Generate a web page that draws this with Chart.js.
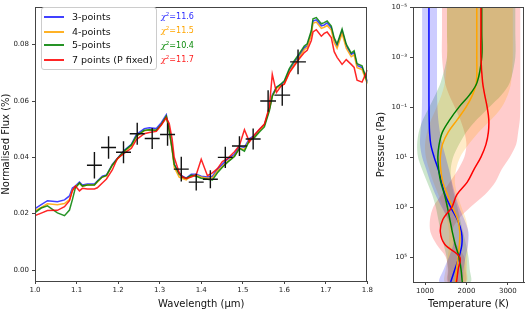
<!DOCTYPE html>
<html>
<head>
<meta charset="utf-8">
<script src="https://cdn.jsdelivr.net/npm/chart.js@4/dist/chart.umd.min.js"></script>
<style>
  body { margin: 0; background: #fff; width: 525px; height: 310px; position: relative; overflow: hidden; font-family: "DejaVu Sans", sans-serif; }
  #specWrap { position: absolute; left: 0; top: 0; width: 375px; height: 310px; }
  #tpWrap { position: absolute; left: 375px; top: 0; width: 150px; height: 310px; }
  .legend { position: absolute; left: 41px; top: 7px; width: 114px; height: 61px; border: 1px solid #ccc; border-radius: 3px; background: rgba(255,255,255,0.85); font-size: 9.5px; color: #111; }
  .row { position: absolute; left: 0; height: 12px; line-height: 12px; }
  .row span.swatch { position: absolute; left: 2px; top: 5px; width: 20px; height: 2px; }
  .row span.lab { position: absolute; left: 30px; top: 0; white-space: nowrap; }
  .chi { position: absolute; left: 161px; font-size: 8px; white-space: nowrap; line-height: 10px; }
  .chi i { font-family: "DejaVu Serif", serif; }
  .chi sup { font-size: 5.5px; vertical-align: 3px; }
</style>
</head>
<body>
<div id="specWrap"><canvas id="spec" width="375" height="310"></canvas></div>
<div id="tpWrap"><canvas id="tp" width="150" height="310"></canvas></div>

<div class="legend">
  <div class="row" style="top:3px"><span class="swatch" style="background:rgba(0,0,255,0.75)"></span><span class="lab">3-points</span></div>
  <div class="row" style="top:18px"><span class="swatch" style="background:rgba(255,165,0,0.85)"></span><span class="lab">4-points</span></div>
  <div class="row" style="top:31px"><span class="swatch" style="background:rgba(0,128,0,0.85)"></span><span class="lab">5-points</span></div>
  <div class="row" style="top:46px"><span class="swatch" style="background:rgba(255,0,0,0.85)"></span><span class="lab">7 points (P fixed)</span></div>
</div>
<div class="chi" style="top:9px;color:#2a2aff"><i>χ</i><sup>2</sup>=11.6</div>
<div class="chi" style="top:23px;color:#ffa500"><i>χ</i><sup>2</sup>=11.5</div>
<div class="chi" style="top:38px;color:#0a8a0a"><i>χ</i><sup>2</sup>=10.4</div>
<div class="chi" style="top:52px;color:#ff2020"><i>χ</i><sup>2</sup>=11.7</div>

<script>
// ---- spectrum (left panel) ----
const wl = [1.000, 1.015, 1.030, 1.054, 1.071, 1.083, 1.090, 1.097, 1.107, 1.114, 1.126, 1.143, 1.150, 1.162, 1.172, 1.186, 1.198, 1.215, 1.232, 1.244,
  1.263, 1.275, 1.292, 1.304, 1.316, 1.323, 1.330, 1.335, 1.347, 1.355, 1.364, 1.376, 1.388, 1.400, 1.415, 1.427, 1.439, 1.451, 1.463, 1.480,
  1.492, 1.504, 1.516, 1.528, 1.540, 1.552, 1.564, 1.571, 1.581, 1.593, 1.600, 1.612, 1.624, 1.636, 1.648, 1.655, 1.665, 1.669, 1.677, 1.689,
  1.696, 1.703, 1.713, 1.720, 1.727, 1.739, 1.749, 1.761, 1.768, 1.775, 1.787, 1.800];

const flux3pt = [0.0218, 0.0232, 0.0246, 0.0242, 0.0249, 0.0263, 0.0291, 0.0298, 0.0312, 0.0302, 0.0305, 0.0305, 0.0316, 0.0333, 0.0337, 0.0375, 0.0396, 0.0425, 0.0446, 0.0481,
  0.0502, 0.0505, 0.0502, 0.0523, 0.0551, 0.0498, 0.0432, 0.0375, 0.0344, 0.0333, 0.0326, 0.0340, 0.0340, 0.0333, 0.0330, 0.0333, 0.0358, 0.0375, 0.0393, 0.0411,
  0.0439, 0.0435, 0.0467, 0.0477, 0.0498, 0.0516, 0.0572, 0.0621, 0.0649, 0.0660, 0.0667, 0.0709, 0.0737, 0.0761, 0.0789, 0.0796, 0.0842, 0.0884, 0.0888, 0.0867,
  0.0870, 0.0877, 0.0860, 0.0818, 0.0796, 0.0849, 0.0796, 0.0765, 0.0772, 0.0726, 0.0719, 0.0670];

const flux4pt = [0.0210, 0.0222, 0.0235, 0.0232, 0.0236, 0.0250, 0.0284, 0.0295, 0.0308, 0.0298, 0.0302, 0.0302, 0.0312, 0.0330, 0.0334, 0.0372, 0.0393, 0.0420, 0.0440, 0.0474,
  0.0494, 0.0497, 0.0495, 0.0516, 0.0545, 0.0495, 0.0425, 0.0365, 0.0330, 0.0325, 0.0320, 0.0335, 0.0336, 0.0330, 0.0326, 0.0328, 0.0352, 0.0368, 0.0385, 0.0405,
  0.0432, 0.0428, 0.0462, 0.0472, 0.0494, 0.0514, 0.0570, 0.0618, 0.0645, 0.0655, 0.0662, 0.0703, 0.0730, 0.0755, 0.0782, 0.0790, 0.0835, 0.0876, 0.0880, 0.0858,
  0.0862, 0.0868, 0.0852, 0.0808, 0.0787, 0.0840, 0.0787, 0.0757, 0.0764, 0.0718, 0.0712, 0.0660];

const flux5pt = [0.0204, 0.0220, 0.0228, 0.0203, 0.0193, 0.0213, 0.0250, 0.0291, 0.0309, 0.0298, 0.0302, 0.0302, 0.0314, 0.0330, 0.0336, 0.0372, 0.0395, 0.0423, 0.0444, 0.0476,
  0.0496, 0.0498, 0.0496, 0.0517, 0.0546, 0.0495, 0.0430, 0.0375, 0.0340, 0.0330, 0.0325, 0.0336, 0.0333, 0.0326, 0.0322, 0.0320, 0.0345, 0.0365, 0.0382, 0.0403,
  0.0432, 0.0422, 0.0460, 0.0470, 0.0490, 0.0508, 0.0565, 0.0616, 0.0648, 0.0662, 0.0672, 0.0715, 0.0743, 0.0768, 0.0795, 0.0803, 0.0850, 0.0892, 0.0896, 0.0874,
  0.0878, 0.0884, 0.0866, 0.0824, 0.0802, 0.0855, 0.0802, 0.0770, 0.0778, 0.0732, 0.0725, 0.0665];

const flux7pt = [0.0193, 0.0202, 0.0211, 0.0212, 0.0225, 0.0246, 0.0281, 0.0298, 0.0281, 0.0290, 0.0288, 0.0288, 0.0292, 0.0309, 0.0323, 0.0355, 0.0395, 0.0415, 0.0432, 0.0463,
  0.0484, 0.0488, 0.0492, 0.0515, 0.0540, 0.0520, 0.0465, 0.0400, 0.0345, 0.0330, 0.0325, 0.0330, 0.0338, 0.0393, 0.0335, 0.0345, 0.0360, 0.0385, 0.0395, 0.0420,
  0.0442, 0.0498, 0.0455, 0.0480, 0.0500, 0.0518, 0.0580, 0.0695, 0.0630, 0.0655, 0.0660, 0.0700, 0.0725, 0.0750, 0.0772, 0.0780, 0.0815, 0.0845, 0.0853, 0.0830,
  0.0840, 0.0845, 0.0825, 0.0775, 0.0755, 0.0730, 0.0747, 0.0730, 0.0719, 0.0674, 0.0667, 0.0710];

// observed points with error bars
const obsWl   = [1.143, 1.177, 1.213, 1.246, 1.282, 1.319, 1.352, 1.388, 1.422, 1.458, 1.492, 1.525, 1.561, 1.595, 1.633];
const obsFlux = [0.0372, 0.0435, 0.0418, 0.0484, 0.0467, 0.0481, 0.0358, 0.0312, 0.0322, 0.0400, 0.0440, 0.0465, 0.0600, 0.0621, 0.0739];
const obsYerr = [0.0047, 0.0040, 0.0039, 0.0039, 0.0037, 0.0040, 0.0044, 0.0030, 0.0032, 0.0038, 0.0035, 0.0037, 0.0038, 0.0038, 0.0044];
const obsXerr = [0.018, 0.018, 0.018, 0.018, 0.018, 0.018, 0.018, 0.018, 0.018, 0.018, 0.018, 0.018, 0.019, 0.019, 0.019];

const wlTicks = [1.0, 1.1, 1.2, 1.3, 1.4, 1.5, 1.6, 1.7, 1.8];
const fluxTicks = [0.00, 0.02, 0.04, 0.06, 0.08];

// ---- T-P profiles (right panel) ----
const pressure = [1e-5, 1e-4, 1e-3, 1e-2, 3.16e-2, 1e-1, 3.16e-1, 1, 3.16, 10, 31.6, 100, 316, 1e3, 3.16e3, 1e4, 3.16e4, 1e5, 3.16e5, 1e6];
const temp3pt = [1095, 1095, 1095, 1095, 1095, 1096, 1100, 1110, 1140, 1220, 1320, 1400, 1480, 1620, 1780, 1880, 1890, 1820, 1720, 1620];
const temp4pt = [2250, 2250, 2250, 2240, 2150, 1990, 1780, 1560, 1420, 1370, 1380, 1430, 1540, 1660, 1790, 1840, 1830, 1800, 1760, 1740];
const temp5pt = [2370, 2370, 2370, 2260, 2080, 1820, 1600, 1420, 1340, 1310, 1330, 1380, 1470, 1540, 1600, 1660, 1730, 1820, 1870, 1900];
const temp7pt = [2350, 2350, 2350, 2390, 2440, 2500, 2540, 2530, 2470, 2350, 2180, 2020, 1770, 1650, 1430, 1370, 1480, 1840, 1800, 1760];

const lo3pt = [930, 930, 930, 930, 930, 925, 915, 890, 880, 930, 1030, 1130, 1250, 1400, 1560, 1680, 1680, 1580, 1450, 1350];
const hi3pt = [1290, 1290, 1290, 1290, 1290, 1300, 1320, 1360, 1420, 1500, 1580, 1650, 1730, 1820, 1950, 2050, 2040, 1980, 1930, 1880];
const lo4pt = [1530, 1530, 1530, 1480, 1400, 1280, 1150, 1050, 1000, 1020, 1100, 1200, 1320, 1430, 1530, 1580, 1580, 1550, 1500, 1480];
const hi4pt = [3120, 3120, 3120, 3080, 3000, 2850, 2600, 2300, 2050, 1850, 1750, 1720, 1780, 1880, 1990, 2040, 2030, 2020, 2010, 2000];
const lo5pt = [1530, 1530, 1530, 1380, 1250, 1100, 950, 850, 810, 830, 930, 1050, 1170, 1260, 1320, 1380, 1450, 1520, 1560, 1580];
const hi5pt = [3180, 3180, 3180, 3050, 2850, 2550, 2250, 2000, 1820, 1680, 1620, 1640, 1700, 1780, 1850, 1920, 1990, 2050, 2080, 2100];
const lo7pt = [1410, 1410, 1410, 1480, 1580, 1720, 1850, 1950, 2000, 1950, 1800, 1600, 1400, 1200, 1120, 1130, 1280, 1500, 1550, 1550];
const hi7pt = [3300, 3300, 3300, 3300, 3300, 3300, 3290, 3250, 3200, 3050, 2850, 2700, 2450, 2100, 1800, 1650, 1760, 1950, 1980, 1980];

const pTicks = [1e-5, 1e-3, 1e-1, 1e1, 1e3, 1e5];
const pTickLabels = ['10⁻⁵', '10⁻³', '10⁻¹', '10¹', '10³', '10⁵'];
const tTicks = [1000, 2000, 3000];

Chart.defaults.font.family = "'DejaVu Sans', sans-serif";
Chart.defaults.color = '#222';

const frame = {
  id: 'frame',
  afterDraw(chart) {
    const { ctx, chartArea: a } = chart;
    ctx.save();
    ctx.strokeStyle = '#444';
    ctx.lineWidth = 1;
    ctx.strokeRect(Math.round(a.left) + 0.5, Math.round(a.top) + 0.5, Math.round(a.right - a.left) - 1, Math.round(a.bottom - a.top));
    ctx.restore();
  }
};

const errorBars = {
  id: 'errorBars',
  afterDatasetsDraw(chart) {
    const { ctx, scales: { x, y } } = chart;
    ctx.save();
    ctx.strokeStyle = '#111';
    ctx.lineWidth = 1.4;
    obsWl.forEach((w, i) => {
      const px = x.getPixelForValue(w), py = y.getPixelForValue(obsFlux[i]);
      ctx.beginPath();
      ctx.moveTo(x.getPixelForValue(w - obsXerr[i]), py);
      ctx.lineTo(x.getPixelForValue(w + obsXerr[i]), py);
      ctx.moveTo(px, y.getPixelForValue(obsFlux[i] - obsYerr[i]));
      ctx.lineTo(px, y.getPixelForValue(obsFlux[i] + obsYerr[i]));
      ctx.stroke();
    });
    ctx.restore();
  }
};

function specLine(vals, color, order) {
  return {
    data: wl.map((w, i) => ({ x: w, y: vals[i] })),
    showLine: true, borderColor: color, borderWidth: 1.5,
    pointRadius: 0, tension: 0, order: order
  };
}

const axisGrid = { display: true, drawOnChartArea: false, drawTicks: true, tickLength: 3, color: '#444' };

new Chart(document.getElementById('spec'), {
  type: 'scatter',
  data: {
    datasets: [
      specLine(flux3pt, 'rgba(0,0,255,0.75)', 4),
      specLine(flux4pt, 'rgba(255,165,0,0.85)', 3),
      specLine(flux5pt, 'rgba(0,128,0,0.85)', 2),
      specLine(flux7pt, 'rgba(255,0,0,0.85)', 1)
    ]
  },
  options: {
    responsive: false, animation: false,
    layout: { padding: { top: 4, right: 7, left: 0, bottom: 0 } },
    plugins: { legend: { display: false }, tooltip: { enabled: false } },
    scales: {
      x: {
        type: 'linear', min: 1.0, max: 1.8,
        afterBuildTicks: s => { s.ticks = wlTicks.map(v => ({ value: v })); },
        afterFit: s => { s.height = 29; },
        ticks: { callback: v => v.toFixed(1), font: { size: 7 }, padding: 2, maxRotation: 0 },
        grid: axisGrid, border: { color: '#444' },
        title: { display: true, text: 'Wavelength (μm)', font: { size: 10 }, color: '#111', padding: { top: 2, bottom: 0 } }
      },
      y: {
        type: 'linear', min: -0.0039, max: 0.0933,
        afterBuildTicks: s => { s.ticks = fluxTicks.map(v => ({ value: v })); },
        afterFit: s => { s.width = 35; },
        ticks: { callback: v => v.toFixed(2), font: { size: 7 }, padding: 3 },
        grid: axisGrid, border: { color: '#444' },
        title: { display: true, text: 'Normalised Flux (%)', font: { size: 10 }, color: '#111', padding: { top: 0, bottom: 2 } }
      }
    }
  },
  plugins: [errorBars, frame]
});

function bandPolygon(lo, hi) {
  const pts = pressure.map((p, i) => ({ x: lo[i], y: p }));
  for (let i = pressure.length - 1; i >= 0; i--) pts.push({ x: hi[i], y: pressure[i] });
  return pts;
}

function band(lo, hi, fillColor) {
  return {
    data: bandPolygon(lo, hi), showLine: true, fill: 'shape',
    backgroundColor: fillColor, borderWidth: 0, borderColor: 'rgba(0,0,0,0)',
    pointRadius: 0, tension: 0.3, order: 5
  };
}

function profile(vals, color, order) {
  return {
    data: pressure.map((p, i) => ({ x: vals[i], y: p })), showLine: true,
    borderColor: color, borderWidth: 1.5, pointRadius: 0, tension: 0.35, order: order
  };
}

new Chart(document.getElementById('tp'), {
  type: 'scatter',
  data: {
    datasets: [
      band(lo3pt, hi3pt, 'rgba(0,0,255,0.2)'),
      band(lo4pt, hi4pt, 'rgba(255,165,0,0.22)'),
      band(lo5pt, hi5pt, 'rgba(0,128,0,0.2)'),
      band(lo7pt, hi7pt, 'rgba(255,0,0,0.2)'),
      profile(temp3pt, 'blue', 4),
      profile(temp4pt, 'orange', 3),
      profile(temp5pt, 'green', 2),
      profile(temp7pt, 'red', 1)
    ]
  },
  options: {
    responsive: false, animation: false,
    layout: { padding: { top: 4, right: 1, left: 0, bottom: 0 } },
    plugins: { legend: { display: false }, tooltip: { enabled: false } },
    scales: {
      x: {
        type: 'linear', min: 710, max: 3390,
        afterBuildTicks: s => { s.ticks = tTicks.map(v => ({ value: v })); },
        afterFit: s => { s.height = 28; },
        ticks: { callback: v => String(v), font: { size: 7 }, padding: 2, maxRotation: 0 },
        grid: axisGrid, border: { color: '#444' },
        title: { display: true, text: 'Temperature (K)', font: { size: 10 }, color: '#111', padding: { top: 2, bottom: 0 } }
      },
      y: {
        type: 'logarithmic', min: 1e-5, max: 1e6, reverse: true,
        afterBuildTicks: s => { s.ticks = pTicks.map(v => ({ value: v })); },
        afterFit: s => { s.width = 38; },
        ticks: { callback: (v) => { const k = pTicks.indexOf(v); return k >= 0 ? pTickLabels[k] : ''; }, font: { size: 7 }, padding: 3 },
        grid: axisGrid, border: { color: '#444' },
        title: { display: true, text: 'Pressure (Pa)', font: { size: 10 }, color: '#111', padding: { top: 0, bottom: 2 } }
      }
    }
  },
  plugins: [frame]
});
</script>
</body>
</html>
